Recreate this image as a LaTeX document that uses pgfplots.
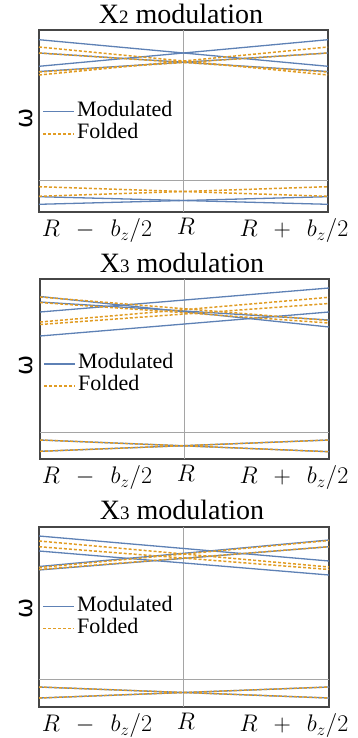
\RequirePackage{fix-cm}
\documentclass[border=0pt]{standalone}
\usepackage[no-math]{fontspec}
\setmainfont{Liberation Serif}
\newfontfamily\omegafont{DejaVu Sans}
\usepackage{pgfplots}
\pgfplotsset{compat=1.18}

\definecolor{modblue}{RGB}{94,129,181}
\definecolor{foldorange}{RGB}{225,156,36}
\definecolor{guidegray}{RGB}{165,165,165}
\definecolor{framec}{RGB}{70,70,70}

\pgfplotsset{
  legend image code/.code={\draw[#1] (0pt,0pt) -- (31pt,0pt);},
  panel/.style={
    scale only axis,
    axis line style={draw=framec, line width=1.4pt},
    xtick={97,186,294}, ytick=\empty,
    xticklabels={$R\;\,-\;\,b_z/2$, $R$, $R\;\,+\;\,b_z/2$},
    major tick length=0pt,
    xticklabel style={font=\fontsize{24}{28}\selectfont, yshift=-3pt},
    ylabel={\omegafont ω},
    ylabel style={font=\fontsize{24}{26}\selectfont, anchor=center},
    legend cell align=left,
    legend style={draw=none, fill=none, inner sep=0pt, anchor=west,
      font=\fontsize{22}{23}\selectfont,
      nodes={inner sep=2pt, text height=14pt, text depth=4pt}},
  },
  modline/.style={modblue, line width=1.3pt, forget plot},
  foldline/.style={foldorange, line width=1.5pt, dash pattern=on 3pt off 2pt, forget plot},
  guide/.style={guidegray, line width=1pt, forget plot},
}

\begin{document}
\begin{tikzpicture}
\useasboundingbox (0,0) rectangle (357pt,-738pt);

% ---- X2 modulation ----
\node[font=\fontsize{28}{32}\selectfont, anchor=base] at (181pt,-24pt)
  {X{\fontsize{19}{21}\selectfont 2} modulation};
\begin{axis}[panel, width=289pt, height=182pt,
  at={(39pt,-212pt)}, anchor=south west,
  xmin=39, xmax=328, ymin=-212, ymax=-30,
  ylabel style={at={(axis description cs:-0.043,0.516)}},
  legend style={at={(axis description cs:0.012,0.49)}}]
\addplot[guide] coordinates {(183.5,-212)(183.5,-30)};
\addplot[guide] coordinates {(39,-180)(328,-180)};
\addplot[modline] coordinates {(39,-39.7)(328,-66.3)};
\addplot[modline] coordinates {(39,-66.3)(328,-39.7)};
\addplot[modline] coordinates {(39,-53)(328,-71.5)};
\addplot[modline] coordinates {(39,-71.5)(328,-53)};
\addplot[modline] coordinates {(39,-196.7)(328,-204.3)};
\addplot[modline] coordinates {(39,-204.3)(328,-196.7)};
\addplot[foldline] coordinates {(39,-47)(328,-75)};
\addplot[foldline] coordinates {(39,-75)(328,-47)};
\addplot[foldline] coordinates {(39,-53)(328,-72)};
\addplot[foldline] coordinates {(39,-72)(328,-53)};
\addplot[foldline] coordinates {(39,-186.7)(328,-196.3)};
\addplot[foldline] coordinates {(39,-196.3)(328,-186.7)};
\addlegendimage{modblue, line width=1.3pt}
\addlegendentry{Modulated}
\addlegendimage{foldorange, line width=1.5pt, dash pattern=on 3pt off 2pt}
\addlegendentry{Folded}
\end{axis}

% ---- X3 modulation (middle) ----
\node[font=\fontsize{28}{32}\selectfont, anchor=base] at (182pt,-272pt)
  {X{\fontsize{19}{21}\selectfont 3} modulation};
\begin{axis}[panel, width=289pt, height=180pt,
  at={(40pt,-459pt)}, anchor=south west,
  xmin=40, xmax=329, ymin=-459, ymax=-279,
  ylabel style={at={(axis description cs:-0.048,0.522)}},
  legend style={at={(axis description cs:0.012,0.467)}}]
\addplot[guide] coordinates {(184.3,-459)(184.3,-279)};
\addplot[guide] coordinates {(40,-432.3)(329,-432.3)};
\addplot[modline] coordinates {(40,-336)(329,-312)};
\addplot[modline] coordinates {(40,-312)(329,-288)};
\addplot[modline] coordinates {(40,-296.5)(329,-327)};
\addplot[modline] coordinates {(40,-302)(329,-320)};
\addplot[modline] coordinates {(40,-440)(329,-451.7)};
\addplot[modline] coordinates {(40,-451.3)(329,-440)};
\addplot[foldline] coordinates {(40,-297)(329,-320.5)};
\addplot[foldline] coordinates {(40,-302.5)(329,-323)};
\addplot[foldline] coordinates {(40,-322)(329,-297.3)};
\addplot[foldline] coordinates {(40,-324.5)(329,-303.5)};
\addplot[foldline] coordinates {(40,-440)(329,-451.7)};
\addplot[foldline] coordinates {(40,-451.3)(329,-440)};
\addlegendimage{modblue, line width=1.3pt}
\addlegendentry{Modulated}
\addlegendimage{foldorange, line width=1.5pt, dash pattern=on 3pt off 2pt}
\addlegendentry{Folded}
\end{axis}

% ---- X3 modulation (bottom) ----
\node[font=\fontsize{28}{32}\selectfont, anchor=base] at (182pt,-519pt)
  {X{\fontsize{19}{21}\selectfont 3} modulation};
\begin{axis}[panel, width=290pt, height=180pt,
  at={(39pt,-707pt)}, anchor=south west,
  xmin=39, xmax=329, ymin=-707, ymax=-527,
  ylabel style={at={(axis description cs:-0.043,0.55)}},
  legend style={at={(axis description cs:0.012,0.497)}}]
\addplot[guide] coordinates {(183,-707)(183,-527)};
\addplot[guide] coordinates {(39,-679.3)(329,-679.3)};
\addplot[modline] coordinates {(39,-536)(329,-561)};
\addplot[modline] coordinates {(39,-551)(329,-575)};
\addplot[modline] coordinates {(39,-566.5)(329,-540)};
\addplot[modline] coordinates {(39,-570)(329,-546.7)};
\addplot[modline] coordinates {(39,-687)(329,-698)};
\addplot[modline] coordinates {(39,-698)(329,-687)};
\addplot[foldline] coordinates {(39,-541)(329,-567)};
\addplot[foldline] coordinates {(39,-546.7)(329,-569.5)};
\addplot[foldline] coordinates {(39,-567.5)(329,-540.5)};
\addplot[foldline] coordinates {(39,-569.5)(329,-546.7)};
\addplot[foldline] coordinates {(39,-687)(329,-698)};
\addplot[foldline] coordinates {(39,-698)(329,-687)};
\addlegendimage{modblue, line width=1.3pt}
\addlegendentry{Modulated}
\addlegendimage{foldorange, line width=1.5pt, dash pattern=on 3pt off 2pt}
\addlegendentry{Folded}
\end{axis}
\end{tikzpicture}
\end{document}
